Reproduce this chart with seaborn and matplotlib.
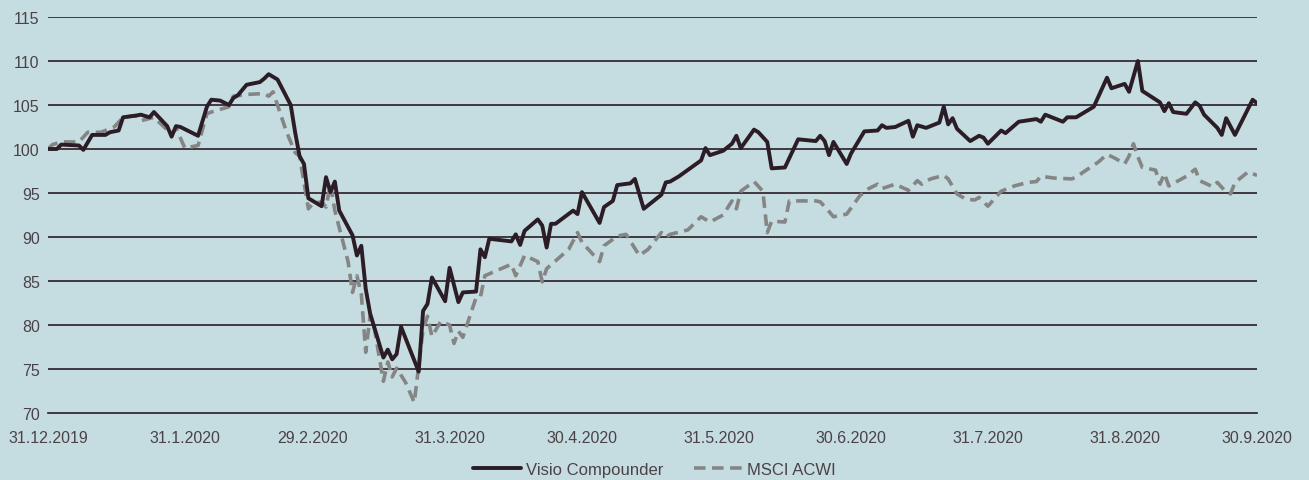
import matplotlib
matplotlib.use("Agg")
import matplotlib.pyplot as plt
import numpy as np
import pandas as pd
import seaborn as sns

START = pd.Timestamp("2019-12-31")

# days since 31.12.2019 and index level
visio_day = [0, 2, 3, 7, 8, 10, 13, 14, 16, 17, 20, 21, 23, 24, 27, 28, 29, 30, 34, 36,
             37, 39, 41, 42, 43, 45, 48, 49, 50, 52, 55, 56, 57, 58, 59, 62, 63, 64, 65, 66,
             69, 70, 71, 72, 73, 76, 77, 78, 79, 80, 84, 85, 86, 87, 90, 91, 93, 94, 97, 98,
             99, 100, 105, 106, 107, 108, 111, 112, 113, 114, 115, 119, 120, 121, 125, 126, 128, 129, 132, 133,
             135, 139, 140, 141, 143, 148, 149, 150, 153, 155, 156, 157, 160, 161, 163, 164, 167, 170, 174, 175,
             176, 177, 178, 181, 182, 185, 188, 189, 190, 192, 195, 196, 197, 199, 202, 203, 204, 205, 206, 209,
             211, 212, 213, 216, 217, 220, 224, 225, 226, 230, 231, 233, 235, 237, 240, 241, 244, 245, 247, 248,
             252, 253, 254, 255, 258, 260, 261, 262, 265, 266, 267, 269, 273, 274]
visio_val = [100.0, 100.0, 100.5, 100.4, 99.9, 101.6, 101.6, 101.9, 102.1, 103.6, 103.8, 103.9, 103.6, 104.2, 102.6, 101.4, 102.6, 102.5, 101.5, 104.8,
             105.6, 105.5, 105.0, 105.8, 106.1, 107.3, 107.6, 108.0, 108.5, 107.9, 105.0, 101.9, 99.2, 98.3, 94.4, 93.5, 96.8, 95.1, 96.3, 93.0,
             90.2, 87.9, 89.0, 84.1, 81.3, 76.3, 77.2, 76.1, 76.7, 79.8, 74.7, 81.6, 82.4, 85.4, 82.7, 86.5, 82.6, 83.7, 83.8, 88.6,
             87.7, 89.8, 89.5, 90.3, 89.1, 90.7, 92.0, 91.3, 88.8, 91.5, 91.5, 93.0, 92.6, 95.1, 91.6, 93.4, 94.1, 95.9, 96.1, 96.6,
             93.2, 94.8, 96.2, 96.3, 96.9, 98.7, 100.1, 99.3, 99.8, 100.6, 101.5, 100.1, 102.2, 101.9, 100.8, 97.8, 97.9, 101.1, 100.9, 101.5,
             100.9, 99.3, 100.8, 98.3, 99.5, 102.0, 102.1, 102.7, 102.4, 102.5, 103.2, 101.4, 102.7, 102.4, 103.0, 104.8, 102.8, 103.5, 102.3, 100.9,
             101.5, 101.3, 100.6, 102.1, 101.8, 103.1, 103.4, 103.1, 103.9, 103.1, 103.6, 103.6, 104.2, 104.8, 108.1, 106.9, 107.4, 106.5, 110.0, 106.6,
             105.3, 104.3, 105.2, 104.2, 104.0, 105.3, 104.9, 103.9, 102.4, 101.6, 103.5, 101.6, 105.6, 105.2]

msci_day = [0, 1, 3, 7, 9, 12, 15, 17, 20, 21, 24, 28, 29, 31, 34, 36, 37, 41, 42, 45,
            49, 50, 51, 54, 56, 57, 59, 60, 62, 63, 64, 65, 68, 69, 70, 71, 72, 73, 74, 76,
            77, 78, 79, 81, 83, 85, 86, 87, 89, 91, 92, 93, 94, 96, 97, 98, 99, 105, 106, 108,
            111, 112, 113, 118, 120, 121, 125, 126, 129, 131, 134, 136, 139, 140, 141, 145, 148, 150, 153, 155,
            156, 157, 160, 162, 163, 164, 167, 168, 174, 175, 177, 178, 181, 184, 186, 188, 189, 192, 195, 197,
            198, 200, 203, 204, 206, 208, 210, 211, 213, 216, 219, 222, 224, 225, 228, 232, 233, 235, 238, 240,
            242, 244, 245, 246, 247, 248, 251, 252, 253, 254, 258, 260, 261, 264, 265, 267, 268, 269, 272, 273, 274]
msci_val = [100.0, 100.5, 100.8, 100.8, 101.9, 101.9, 102.5, 103.6, 103.8, 103.2, 103.6, 101.7, 102.4, 100.1, 100.4, 104.0, 104.2, 104.8, 106.0, 106.2,
            106.3, 106.0, 106.5, 102.0, 99.6, 99.2, 93.2, 93.8, 94.0, 93.4, 96.0, 93.0, 87.2, 83.7, 85.6, 83.5, 76.9, 81.1, 79.5, 73.6,
            75.8, 74.1, 75.1, 73.5, 71.2, 79.5, 81.0, 78.7, 80.4, 80.0, 77.9, 79.3, 78.6, 81.6, 83.1, 83.2, 85.6, 86.9, 85.6, 87.9,
            87.2, 84.9, 86.4, 88.6, 90.5, 89.4, 87.2, 89.0, 90.1, 90.3, 87.9, 88.6, 90.5, 90.0, 90.3, 90.8, 92.3, 91.7, 92.5, 94.1,
            93.2, 95.2, 96.3, 95.2, 90.5, 91.8, 91.7, 94.1, 94.1, 94.0, 92.9, 92.3, 92.6, 94.7, 95.5, 96.0, 95.5, 96.0, 95.3, 96.4,
            96.0, 96.6, 97.0, 96.6, 94.9, 94.3, 94.2, 94.5, 93.5, 95.2, 95.8, 96.2, 96.3, 96.9, 96.7, 96.6, 96.8, 97.5, 98.5, 99.4,
            98.9, 98.3, 99.2, 100.6, 99.1, 97.9, 97.6, 96.0, 97.2, 95.8, 96.9, 97.7, 96.4, 95.7, 96.2, 95.1, 94.9, 96.2, 97.4, 97.2, 97.0]

tick_dates = ["2019-12-31", "2020-01-31", "2020-02-29", "2020-03-31", "2020-04-30",
              "2020-05-31", "2020-06-30", "2020-07-31", "2020-08-31", "2020-09-30"]
tick_labels = ["31.12.2019", "31.1.2020", "29.2.2020", "31.3.2020", "30.4.2020",
               "31.5.2020", "30.6.2020", "31.7.2020", "31.8.2020", "30.9.2020"]
y_ticks = [70, 75, 80, 85, 90, 95, 100, 105, 110, 115]

BG = "#c5dde0"
DARK = "#2b1c26"
GREY = "#858585"
TEXT = "#4a4247"

visio = pd.DataFrame({"date": START + pd.to_timedelta(visio_day, unit="D"), "value": visio_val})
msci = pd.DataFrame({"date": START + pd.to_timedelta(msci_day, unit="D"), "value": msci_val})

sns.set_style("white")
plt.rcParams["font.family"] = ["Liberation Sans", "DejaVu Sans"]

fig = plt.figure(figsize=(13.09, 4.81), dpi=100, facecolor=BG)
ax = fig.add_axes([0.0367, 0.1393, 0.9236, 0.8233], facecolor=BG)

for y in y_ticks[1:]:
    ax.axhline(y, color=DARK, lw=1.2, zorder=1)

sns.lineplot(data=msci, x="date", y="value", ax=ax, color=GREY, lw=2.6,
             linestyle=(0, (3.2, 1.8)), label="MSCI ACWI", zorder=3)
sns.lineplot(data=visio, x="date", y="value", ax=ax, color=DARK, lw=2.8,
             label="Visio Compounder", zorder=4)

ax.set_xlim(pd.Timestamp(tick_dates[0]), pd.Timestamp(tick_dates[-1]))
ax.set_ylim(70, 115)
ax.set_yticks(y_ticks)
ax.set_xticks(pd.to_datetime(tick_dates))
ax.set_xticklabels(tick_labels)
ax.set_xlabel("")
ax.set_ylabel("")

for side in ["top", "right", "left"]:
    ax.spines[side].set_visible(False)
ax.spines["bottom"].set_color(DARK)
ax.spines["bottom"].set_linewidth(1.2)
ax.tick_params(axis="x", direction="out", length=6, width=1.2, color=DARK,
               labelsize=11.5, labelcolor=TEXT, pad=6)
ax.tick_params(axis="y", length=0, labelsize=11.5, labelcolor=TEXT, pad=6)

handles, labels = ax.get_legend_handles_labels()
ax.get_legend().remove()
fig.legend(handles[::-1], labels[::-1], loc="lower center", bbox_to_anchor=(0.5, -0.025),
           ncol=2, frameon=False, fontsize=12, labelcolor=TEXT, handlelength=2.9,
           columnspacing=1.8, handletextpad=0.3)

fig.savefig("out.png", dpi=100, facecolor=BG)
